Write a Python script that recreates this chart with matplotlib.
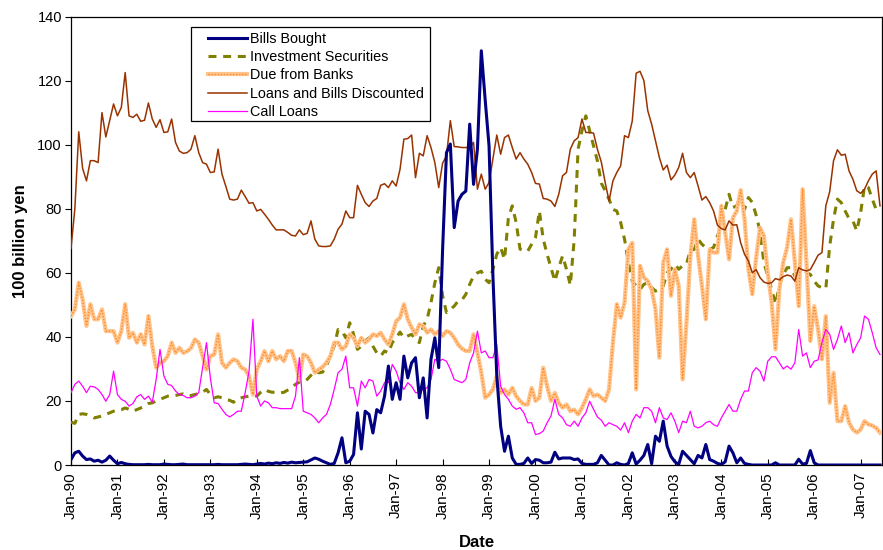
import matplotlib
matplotlib.use("Agg")
import matplotlib.pyplot as plt
from matplotlib.patches import Rectangle
import numpy as np

plt.rcParams['font.family'] = ['Liberation Sans', 'DejaVu Sans']

# monthly values, Jan-90 .. Jun-07 (100 billion yen)
bills_bought = [
    1.7, 3.8, 4.3, 2.8, 1.7, 1.9, 1.2, 1.5, 0.9, 1.5, 2.8, 1.5,
    0.4, 0.8, 0.4, 0.2, 0.1, 0.1, 0.1, 0.1, 0.2, 0.1, 0.1, 0.1,
    0.3, 0.2, 0.1, 0.1, 0.2, 0.3, 0.1, 0.1, 0.1, 0.1, 0.1, 0.1,
    0.1, 0.1, 0.2, 0.1, 0.1, 0.1, 0.1, 0.1, 0.2, 0.3, 0.2, 0.1,
    0.3, 0.5, 0.3, 0.6, 0.4, 0.7, 0.5, 0.8, 0.6, 0.9, 0.7, 0.8,
    0.9, 1.0, 1.6, 2.2, 1.8, 1.2, 0.7, 0.2, 0.5, 3.8, 8.5, 0.7,
    1.2, 3.3, 16.3, 5.0, 16.8, 15.8, 10.0, 17.3, 16.3, 21.5, 30.9, 20.5,
    25.7, 20.5, 34.0, 27.2, 31.9, 33.5, 21.0, 27.2, 14.7, 33.0, 39.7, 30.4,
    67.3, 97.5, 100.2, 74.1, 82.4, 84.5, 85.5, 106.4, 87.6, 98.6, 129.3, 114.0,
    99.6, 59.0, 27.8, 12.1, 4.3, 9.0, 2.2, 0.2, 0.2, 0.5, 2.2, 0.5,
    1.7, 1.5, 0.7, 0.7, 0.9, 4.0, 1.9, 2.2, 2.2, 2.2, 1.7, 1.9,
    0.5, 0.2, 0.2, 0.2, 0.7, 3.0, 1.5, 0.0, 0.0, 0.7, 0.2, 0.0,
    0.5, 3.8, 0.3, 1.5, 3.0, 6.4, 0.4, 9.0, 7.4, 13.7, 5.9, 2.7,
    1.0, 0.2, 4.3, 3.0, 1.7, 0.4, 3.0, 2.2, 6.4, 1.7, 1.2, 0.5,
    0.2, 1.0, 5.9, 3.8, 0.7, 2.2, 0.5, 0.2, 0.0, 0.0, 0.0, 0.0,
    0.0, 0.0, 0.7, 0.0, 0.0, 0.0, 0.0, 0.0, 1.8, 0.3, 0.5, 4.5,
    0.7, 0.0, 0.0, 0.0, 0.0, 0.0, 0.0, 0.0, 0.0, 0.0, 0.0, 0.0,
    0.0, 0.0, 0.0, 0.0, 0.0, 0.0,
]
investment_securities = [
    13.4, 13.0, 15.8, 16.0, 15.8, 15.3, 14.7, 15.0, 15.3, 15.8, 16.3, 16.8,
    17.3, 17.3, 17.8, 17.4, 16.8, 17.3, 17.8, 18.4, 19.2, 19.4, 20.0, 20.5,
    21.0, 21.5, 21.5, 21.7, 22.0, 22.2, 21.7, 21.7, 22.0, 22.3, 22.7, 23.6,
    22.0, 21.0, 21.3, 21.0, 20.5, 20.2, 19.6, 20.7, 21.0, 21.3, 21.5, 21.7,
    21.5, 22.7, 23.6, 23.0, 22.7, 22.8, 22.5, 22.7, 23.4, 24.1, 25.2, 25.9,
    25.7, 26.7, 28.0, 29.3, 28.8, 29.0, 31.0, 34.0, 37.1, 42.3, 41.8, 39.7,
    44.4, 40.8, 36.1, 37.1, 38.7, 39.7, 37.1, 35.0, 34.0, 35.6, 35.0, 38.2,
    39.7, 41.5, 39.7, 40.3, 40.8, 39.2, 38.2, 43.4, 45.5, 50.7, 56.9, 61.6,
    52.8, 47.6, 48.6, 49.6, 51.2, 51.5, 53.3, 56.4, 59.0, 60.0, 60.5, 58.0,
    56.9, 61.1, 65.8, 67.9, 64.2, 77.2, 80.9, 75.7, 67.4, 66.8, 66.8, 68.9,
    71.0, 79.3, 70.5, 65.8, 61.6, 57.4, 61.6, 65.3, 61.1, 56.1, 70.5, 98.6,
    104.3, 109.0, 104.3, 99.6, 94.9, 88.0, 85.6, 83.0, 79.8, 79.3, 75.7, 70.5,
    63.2, 57.4, 55.9, 54.8, 56.4, 56.9, 55.4, 54.3, 54.8, 55.9, 60.0, 61.1,
    62.7, 61.1, 62.2, 62.7, 67.1, 67.3, 70.5, 68.9, 67.9, 67.3, 67.9, 71.5,
    74.6, 79.8, 84.5, 80.4, 80.9, 84.8, 79.8, 83.5, 82.0, 78.0, 73.0, 63.2,
    59.0, 54.8, 50.2, 55.9, 59.5, 61.6, 61.6, 59.0, 59.0, 59.0, 60.0, 59.5,
    57.4, 55.9, 55.4, 55.0, 68.4, 76.7, 83.0, 81.9, 79.3, 76.9, 76.2, 73.1,
    78.8, 87.1, 86.6, 83.0, 79.8, 78.8,
]
due_from_banks = [
    46.5, 48.6, 56.9, 51.7, 43.4, 50.2, 45.5, 45.5, 48.6, 41.8, 41.8, 41.8,
    38.2, 41.8, 50.2, 39.7, 41.3, 38.2, 40.8, 37.6, 46.5, 37.1, 30.4, 31.9,
    32.4, 34.0, 38.2, 35.0, 36.6, 35.0, 35.5, 36.5, 39.2, 38.2, 34.0, 29.8,
    34.0, 34.5, 40.8, 31.9, 30.4, 31.9, 33.0, 32.4, 30.4, 29.8, 27.8, 22.0,
    29.8, 32.4, 35.6, 32.4, 35.6, 33.0, 34.0, 32.4, 35.6, 35.6, 31.9, 26.7,
    34.5, 34.0, 31.9, 28.8, 29.8, 30.6, 32.0, 34.0, 38.2, 38.2, 36.1, 37.1,
    40.8, 39.7, 37.1, 39.7, 38.2, 39.2, 40.8, 40.3, 41.3, 39.2, 37.6, 40.8,
    44.9, 46.0, 50.2, 45.5, 42.9, 40.8, 43.9, 43.4, 41.3, 42.3, 40.8, 41.8,
    40.3, 41.8, 41.3, 39.7, 37.6, 36.3, 35.6, 35.6, 40.8, 35.0, 28.8, 21.0,
    22.0, 23.6, 27.8, 22.5, 23.6, 22.0, 24.1, 21.5, 20.0, 18.9, 18.9, 24.1,
    20.0, 21.0, 30.4, 24.6, 20.0, 22.5, 19.4, 17.9, 18.9, 16.8, 17.3, 15.8,
    17.9, 20.5, 23.6, 21.5, 22.0, 21.0, 20.0, 23.6, 38.2, 50.2, 46.0, 50.7,
    67.3, 69.4, 23.6, 62.2, 58.5, 57.4, 54.8, 48.6, 33.5, 63.2, 67.3, 52.8,
    61.1, 55.9, 26.7, 44.4, 65.3, 76.7, 65.3, 55.9, 45.5, 67.3, 66.3, 66.3,
    80.9, 72.6, 64.2, 77.2, 79.3, 85.8, 76.7, 61.1, 53.3, 64.7, 74.1, 71.5,
    60.0, 50.7, 36.1, 54.8, 63.2, 67.9, 76.7, 63.2, 49.6, 86.1, 63.2, 38.7,
    49.6, 42.3, 33.0, 46.5, 19.4, 28.8, 13.7, 13.7, 18.4, 13.2, 11.1, 10.1,
    11.1, 13.7, 12.7, 12.3, 11.6, 10.1,
]
loans_discounted = [
    67.6, 80.0, 104.0, 92.6, 88.7, 95.0, 95.0, 94.4, 110.0, 102.4, 107.5, 112.7,
    109.0, 111.6, 122.5, 109.0, 108.5, 109.5, 107.3, 107.6, 113.0, 108.0, 105.4, 107.8,
    103.8, 104.0, 108.0, 100.7, 98.0, 97.3, 97.5, 98.6, 102.8, 97.5, 94.4, 93.9,
    91.3, 91.5, 98.6, 90.8, 87.0, 83.0, 82.7, 83.0, 85.8, 83.8, 81.7, 81.9,
    79.3, 79.8, 78.3, 76.7, 74.9, 73.4, 73.4, 73.4, 72.6, 71.7, 71.5, 73.4,
    71.9, 72.3, 76.2, 70.5, 68.4, 68.2, 68.2, 68.4, 70.5, 73.6, 75.2, 79.3,
    77.2, 77.2, 87.3, 84.5, 81.9, 80.7, 82.4, 83.2, 87.3, 87.8, 86.6, 88.7,
    87.1, 92.3, 101.7, 101.9, 103.0, 89.7, 97.3, 96.5, 102.8, 99.1, 94.4, 86.6,
    94.2, 96.5, 107.5, 99.4, 99.3, 99.1, 99.1, 99.1, 100.7, 86.1, 90.8, 86.1,
    88.2, 95.5, 103.0, 97.0, 102.2, 103.0, 99.1, 95.5, 97.5, 95.5, 93.9, 91.3,
    87.9, 87.7, 83.2, 83.0, 82.4, 80.7, 84.5, 90.3, 91.3, 98.6, 101.2, 102.2,
    108.0, 103.8, 103.8, 103.6, 98.5, 94.6, 88.2, 82.4, 88.7, 91.3, 93.4, 102.8,
    102.2, 107.4, 122.3, 122.9, 120.0, 110.6, 106.4, 101.2, 96.0, 92.1, 93.6, 89.0,
    90.5, 92.9, 97.3, 91.3, 89.7, 91.3, 87.1, 82.7, 83.8, 81.9, 79.3, 74.9,
    73.8, 73.4, 76.2, 74.9, 75.0, 69.4, 65.8, 63.7, 60.0, 61.0, 58.5, 57.1,
    56.7, 56.9, 58.2, 57.8, 58.8, 59.3, 59.0, 57.4, 61.6, 60.9, 60.6, 61.0,
    63.2, 65.5, 66.3, 80.9, 85.3, 95.0, 98.4, 96.7, 97.0, 91.8, 89.2, 85.6,
    84.8, 86.1, 88.7, 90.8, 91.8, 80.9,
]
call_loans = [
    22.6, 25.2, 26.2, 24.6, 22.6, 24.6, 24.4, 23.6, 22.0, 19.9, 22.0, 29.3,
    22.0, 20.5, 19.9, 18.4, 19.2, 21.3, 22.0, 20.5, 21.5, 19.6, 26.7, 36.1,
    27.8, 25.2, 24.8, 23.1, 22.0, 21.7, 21.0, 21.0, 21.5, 22.6, 30.4, 38.2,
    27.2, 19.4, 19.2, 17.4, 15.8, 15.0, 15.8, 16.8, 16.8, 22.6, 29.3, 45.5,
    21.5, 18.4, 20.0, 19.4, 17.9, 17.9, 17.6, 17.6, 17.6, 17.6, 21.5, 33.5,
    16.8, 16.3, 15.8, 14.7, 13.2, 14.7, 15.8, 18.9, 23.6, 28.8, 29.9, 34.0,
    24.1, 24.1, 18.4, 26.2, 24.1, 26.7, 26.2, 21.5, 23.1, 25.7, 25.7, 31.4,
    29.3, 25.7, 23.6, 25.7, 24.6, 22.6, 22.6, 23.6, 24.1, 26.7, 33.0, 32.4,
    33.0, 32.4, 29.9, 26.7, 26.2, 25.7, 26.7, 31.9, 35.0, 41.8, 35.0, 35.6,
    33.5, 33.5, 37.6, 24.6, 22.0, 20.5, 18.4, 17.4, 17.9, 16.3, 13.2, 13.2,
    9.5, 9.8, 10.6, 13.2, 15.3, 20.5, 15.8, 14.7, 12.6, 12.1, 13.7, 12.1,
    14.7, 16.3, 19.9, 17.4, 15.0, 14.0, 12.1, 13.2, 12.6, 12.1, 10.9, 13.2,
    10.1, 13.7, 15.8, 14.7, 17.9, 17.9, 16.8, 13.2, 17.9, 14.7, 14.2, 16.3,
    13.7, 10.1, 13.7, 13.2, 16.8, 12.1, 11.6, 12.1, 13.2, 13.7, 12.6, 12.1,
    14.7, 16.8, 18.9, 16.8, 16.8, 20.5, 23.1, 23.1, 28.8, 30.4, 29.3, 26.2,
    32.4, 33.8, 33.8, 31.9, 30.0, 30.9, 29.9, 31.9, 42.3, 34.0, 35.0, 30.4,
    32.4, 32.8, 38.2, 42.3, 40.8, 36.1, 39.2, 43.4, 38.2, 41.3, 35.0, 37.6,
    39.7, 46.5, 45.5, 41.3, 36.6, 34.5,
]
years = ['Jan-%02d' % (y % 100) for y in range(1990, 2008)]

x = np.arange(len(loans_discounted))

fig = plt.figure(figsize=(8.83, 5.5), dpi=100)
ax = fig.add_axes([0.0804, 0.1545, 0.9184, 0.8155])

ln_ib, = ax.plot(x, investment_securities, color='#808000', lw=2.2, dashes=(2.6, 2.2), zorder=3)
ln_db1, = ax.plot(x, due_from_banks, color='#FFC48C', lw=3.0, solid_joinstyle='round', zorder=3)
ln_db2, = ax.plot(x, due_from_banks, color='#FF8A2A', lw=1.0, dashes=(1.0, 1.2), zorder=3)
ln_lb, = ax.plot(x, loans_discounted, color='#993300', lw=1.1, zorder=4)
ln_cl, = ax.plot(x, call_loans, color='#FF00FF', lw=0.9, zorder=4)
ln_bb, = ax.plot(x, bills_bought, color='#000080', lw=2.2, zorder=5)

ax.set_xlim(0, len(x) - 0.5)
ax.set_ylim(0, 140)
ax.set_yticks(range(0, 141, 20))
ax.set_xticks(range(0, len(x), 12))
ax.set_xticklabels(years, rotation=90, fontsize=11)
ax.tick_params(axis='y', labelsize=10.5, direction='out', length=4, width=0.8, pad=2.5)
ax.tick_params(axis='x', direction='in', length=4, width=0.8, pad=5)
for s in ax.spines.values():
    s.set_linewidth(0.9)

ax.set_ylabel('100 billion yen', fontsize=12, fontweight='bold', labelpad=7)
ax.set_xlabel('Date', fontsize=12, fontweight='bold', labelpad=12)

# legend box drawn separately, Excel style with wide left margin
box = Rectangle((0.148, 0.768), 0.2947, 0.2076, transform=ax.transAxes,
                facecolor='white', edgecolor='black', lw=0.9, zorder=6)
ax.add_patch(box)

leg = ax.legend([ln_bb, ln_ib, (ln_db1, ln_db2), ln_lb, ln_cl],
                ['Bills Bought', 'Investment Securities', 'Due from Banks',
                 'Loans and Bills Discounted', 'Call Loans'],
                loc='upper left', bbox_to_anchor=(0.169, 0.966), fontsize=10.4,
                frameon=False, handlelength=2.7, handletextpad=0.2,
                labelspacing=0.3, borderpad=0, borderaxespad=0)
leg.set_zorder(7)

fig.savefig('out.png', dpi=100)
